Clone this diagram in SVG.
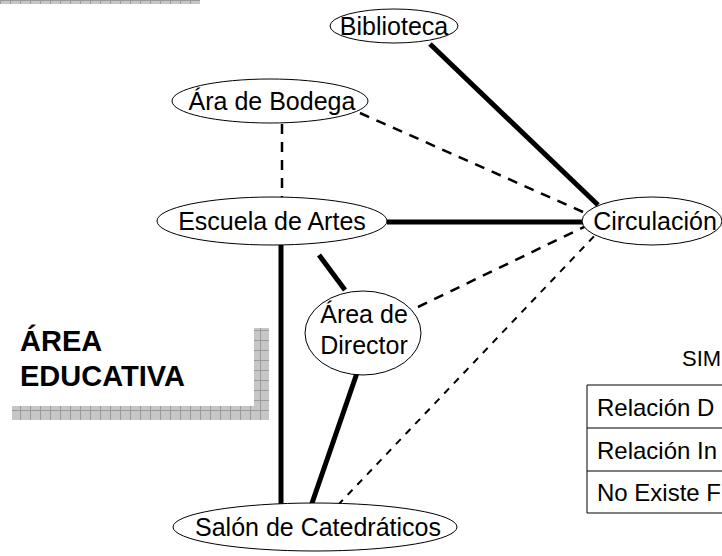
<svg xmlns="http://www.w3.org/2000/svg" width="722" height="556" viewBox="0 0 722 556">
<defs>
<pattern id="grid" width="10" height="10" patternUnits="userSpaceOnUse">
<rect width="10" height="10" fill="#c6c6c6"/>
<path d="M0.5 0V10M0 0.5H10" stroke="#9a9a9a" stroke-width="1"/>
</pattern>
</defs>
<style>
.node ellipse{fill:#fff;stroke:#000;stroke-width:1}
.lbl{font-family:"Liberation Sans",Arial,sans-serif;font-size:25px;fill:#000;text-anchor:middle}
.thick{stroke:#000;stroke-width:5;fill:none}
.dash{stroke:#000;stroke-width:2.5;stroke-dasharray:10 8;fill:none}
.dash2{stroke:#000;stroke-width:2;stroke-dasharray:7 7;fill:none}
.tbl{font-family:"Liberation Sans",Arial,sans-serif;font-size:24px;fill:#000}
.sim{font-family:"Liberation Sans",Arial,sans-serif;font-size:22px;fill:#000}
.big{font-family:"Liberation Sans",Arial,sans-serif;font-size:29px;font-weight:bold;fill:#000}
</style>
<rect x="0" y="0" width="200" height="4" fill="url(#grid)"/>
<g id="area-label">
<rect x="254" y="328" width="15" height="92" fill="url(#grid)"/>
<rect x="12" y="406" width="257" height="14" fill="url(#grid)"/>
<text class="big" x="20" y="351">ÁREA</text>
<text class="big" x="20" y="386">EDUCATIVA</text>
</g>
<g id="connectors">
<line class="thick" x1="430" y1="44" x2="598" y2="205"/>
<line class="dash" x1="360" y1="113" x2="583" y2="212"/>
<line class="dash" x1="282" y1="124" x2="282" y2="198"/>
<line class="thick" x1="387" y1="222" x2="584" y2="222"/>
<line class="thick" x1="319" y1="255" x2="345" y2="290"/>
<line class="thick" x1="281" y1="245" x2="281" y2="506"/>
<line class="dash" x1="418" y1="307" x2="586" y2="226"/>
<line class="thick" x1="357" y1="373" x2="311" y2="506"/>
<line class="dash2" x1="338" y1="505" x2="600" y2="230"/>
</g>
<g id="biblioteca" class="node"><ellipse cx="394" cy="26" rx="64" ry="17"/><text class="lbl" x="394" y="35">Biblioteca</text></g>
<g id="bodega" class="node"><ellipse cx="270" cy="101" rx="98" ry="22"/><text class="lbl" x="272" y="110">Ára de Bodega</text></g>
<g id="escuela" class="node"><ellipse cx="272" cy="221" rx="115" ry="24"/><text class="lbl" x="272" y="230">Escuela de Artes</text></g>
<g id="circulacion" class="node"><ellipse cx="652" cy="221" rx="70" ry="24"/><text class="lbl" x="655" y="230">Circulación</text></g>
<g id="director" class="node"><ellipse cx="363" cy="333" rx="58" ry="42"/><text class="lbl" x="364" y="323">Área de</text><text class="lbl" x="364" y="354">Director</text></g>
<g id="salon" class="node"><ellipse cx="315" cy="527" rx="142" ry="24"/><text class="lbl" x="318" y="536">Salón de Catedráticos</text></g>
<g id="simbologia">
<text class="sim" x="682" y="366">SIM</text>
<path d="M587 385H722M587 428H722M587 471H722M587 513H722M587 385V513" stroke="#000" stroke-width="1" fill="none"/>
<text class="tbl" x="597" y="416">Relación D</text>
<text class="tbl" x="597" y="459">Relación In</text>
<text class="tbl" x="597" y="501">No Existe F</text>
</g>
</svg>
